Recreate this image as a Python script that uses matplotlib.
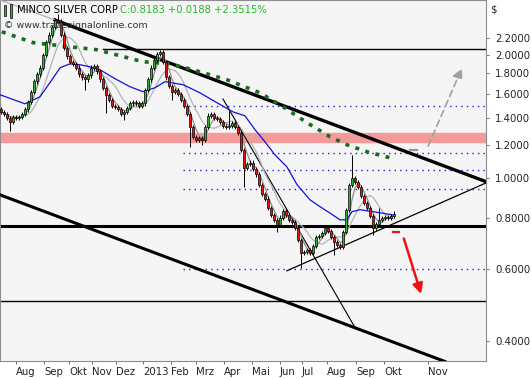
import numpy as np
import pandas as pd
import matplotlib
matplotlib.use("Agg")
import matplotlib.pyplot as plt
from matplotlib.ticker import FixedLocator, NullLocator, NullFormatter
from matplotlib.patches import Rectangle

# closing prices, one bar per ~2 trading days, Aug 2012 .. Sep 2013
closes = [1.45, 1.43, 1.40, 1.37, 1.41, 1.40, 1.41, 1.43, 1.47, 1.53,
          1.62, 1.72, 1.79, 1.86, 2.00, 2.15, 2.24, 2.34, 2.43, 2.41,
          2.24, 2.08, 1.98, 1.92, 1.90, 1.86, 1.79, 1.76, 1.74, 1.78,
          1.86, 1.88, 1.82, 1.74, 1.66, 1.59, 1.55, 1.50, 1.49, 1.475,
          1.43, 1.45, 1.48, 1.52, 1.53, 1.52, 1.50, 1.52, 1.64, 1.74,
          1.86, 1.94, 2.01, 2.03, 1.92, 1.76, 1.68, 1.62, 1.64, 1.60,
          1.55, 1.50, 1.43, 1.33, 1.26, 1.24, 1.25, 1.24, 1.33, 1.42,
          1.43, 1.40, 1.39, 1.37, 1.34, 1.33, 1.34, 1.36, 1.33, 1.29,
          1.17, 1.06, 1.08, 1.09, 1.05, 1.02, 0.96, 0.915, 0.89, 0.845,
          0.812, 0.79, 0.768, 0.80, 0.83, 0.81, 0.79, 0.78, 0.755, 0.706,
          0.655, 0.66, 0.667, 0.655, 0.682, 0.718, 0.722, 0.734, 0.755, 0.743,
          0.718, 0.698, 0.686, 0.678, 0.739, 0.836, 0.962, 1.00, 0.978, 0.951,
          0.904, 0.869, 0.845, 0.807, 0.755, 0.772, 0.79, 0.799, 0.803, 0.799,
          0.807, 0.8183]
first_open = 1.47

# bars with long shadows (bar index -> price)
long_lows = {3: 1.30, 28: 1.64, 35: 1.44, 41: 1.387, 57: 1.55, 63: 1.19,
             67: 1.205, 81: 0.951, 92: 0.738, 100: 0.603, 111: 0.649, 124: 0.726}
long_highs = {19: 2.52, 76: 1.46, 117: 1.139, 126: 0.845}

# 50-day average (blue)
ma50_x = [-0.3, 8, 13, 16.3, 19.7, 23, 26.3, 29.7, 33, 38, 43, 47.3, 51.3,
          54.7, 60.7, 66.3, 72, 77.3, 81.3, 84.7, 88, 91.3, 95.3, 98.7, 103,
          106.3, 109.7, 113, 115.3, 117, 119.7, 124, 130.7]
ma50 = [1.596, 1.517, 1.578, 1.708, 1.858, 1.90, 1.89, 1.868, 1.837, 1.747,
        1.67, 1.624, 1.66, 1.718, 1.689, 1.614, 1.526, 1.45, 1.418, 1.311,
        1.225, 1.139, 1.064, 0.962, 0.884, 0.851, 0.82, 0.79, 0.79, 0.827,
        0.836, 0.827, 0.812]

# 200-day average (green dotted)
ma200_x = [0.3, 10.7, 32, 47.3, 56.3, 64, 75.3, 86.3, 94, 102, 109.7, 115.3, 122, 129.7]
ma200 = [2.275, 2.14, 2.056, 1.922, 1.90, 1.837, 1.737, 1.614, 1.492, 1.364,
         1.26, 1.205, 1.158, 1.12]

month_pos = [5, 14.3, 22.7, 30.3, 38.3, 47.3, 56.7, 65, 74.3, 83.7, 93,
             100.3, 108.7, 118.3, 127.7, 142.3]
month_labels = ["Aug", "Sep", "Okt", "Nov", "Dez", "2013", "Feb", "Mrz", "Apr",
                "Mai", "Jun", "Jul", "Aug", "Sep", "Okt", "Nov"]

price_ticks = [0.4, 0.6, 0.8, 1.0, 1.2, 1.4, 1.6, 1.8, 2.0, 2.2]
dotted_levels = [1.50, 1.152, 1.047, 0.94, 0.60]

plt.rcParams['font.family'] = 'DejaVu Sans'

fig = plt.figure(figsize=(5.31, 3.79), dpi=100)
ax = fig.add_axes([0, 18 / 379, 486 / 531, 361 / 379])
ax.set_facecolor('#f5f5f5')
ax.set_yscale('log')
x_end = 161.67
ax.set_xlim(-0.33, x_end)
ax.set_ylim(0.357, 2.72)

# support / resistance
ax.axhspan(1.225, 1.29, color='#f59a9a', zorder=1)
ax.axhline(0.765, color='black', lw=2.2, zorder=2)
ax.axhline(0.50, color='black', lw=1.0, zorder=2)
ax.plot([34, x_end], [2.07, 2.07], color='black', lw=1.0, zorder=2)
for lev in dotted_levels:
    ax.plot([60.7, x_end], [lev, lev], color='#1f1fe0', lw=1.0,
            ls=(0, (1, 3)), zorder=2)

# trend channel
ax.plot([18, x_end], [2.43, 0.979], color='black', lw=2.4, zorder=3)
ax.plot([-0.33, 148], [0.909, 0.356], color='black', lw=2.2, zorder=3)
ax.plot([95.3, x_end], [0.593, 0.972], color='black', lw=0.9, zorder=3)
ax.plot([74, 118], [1.559, 0.431], color='black', lw=0.8, zorder=3)
ax.plot([-0.33, 18.7], [2.72, 2.42], color='#aaaaaa', lw=0.8, zorder=3)

# moving averages
cl = pd.Series(closes)
idx = np.arange(len(closes))
ax.plot(idx, cl.rolling(9, min_periods=1).mean(), color='#b4b4b4', lw=0.9, zorder=4)
ax.plot(idx, cl.rolling(4, min_periods=1).mean(), color='#8f8f8f', lw=0.9, zorder=4)
ax.plot(ma50_x, ma50, color='#1010e0', lw=0.9, zorder=4)
ax.plot(ma200_x, ma200, color='#1a6b1a', lw=2.6, ls=(0, (1.1, 1.8)), zorder=4)

# candles
opens = [first_open] + closes[:-1]
for i, (o, c) in enumerate(zip(opens, closes)):
    top, bot = max(o, c), min(o, c)
    hi = long_highs.get(i, top * 1.012)
    lo = long_lows.get(i, bot * 0.988)
    ax.vlines(i, lo, hi, color='black', lw=0.7, zorder=5)
    col = '#2db82d' if c >= o else '#ee1111'
    ax.add_patch(Rectangle((i - 0.36, bot), 0.72, max(top - bot, bot * 0.004),
                           facecolor=col, edgecolor='black', lw=0.5, zorder=6))

# scenario arrows
ax.plot([136.3, 138.7], [1.17, 1.17], color='#999999', lw=1.6, zorder=4)
ax.annotate('', xy=(154, 1.88), xytext=(142, 1.178),
            arrowprops=dict(arrowstyle='-|>,head_length=0.6,head_width=0.3',
                            color='#a0a0a0', lw=1.2, ls=(0, (4, 2.5))), zorder=4)
ax.plot([130.7, 132.7], [0.739, 0.739], color='#ee1111', lw=1.6, zorder=4)
ax.annotate('', xy=(140.3, 0.513), xytext=(134, 0.722),
            arrowprops=dict(arrowstyle='-|>,head_length=0.6,head_width=0.3',
                            color='#ee1111', lw=1.8), zorder=4)

# axes styling
for s in ax.spines.values():
    s.set_color('#8c8c8c')
ax.yaxis.tick_right()
ax.yaxis.set_major_locator(FixedLocator(price_ticks))
ax.yaxis.set_minor_locator(NullLocator())
ax.yaxis.set_minor_formatter(NullFormatter())
ax.set_yticklabels([f"{p:.4f}" for p in price_ticks])
ax.tick_params(axis='y', direction='out', length=2.5, width=0.6,
               color='#555555', labelsize=7.3, pad=4, labelcolor='#222222')
ax.set_xticks(month_pos)
ax.set_xticklabels(month_labels)
for lbl in ax.get_xticklabels():
    lbl.set_horizontalalignment('left')
ax.tick_params(axis='x', direction='out', length=2.5, width=0.6,
               color='#555555', labelsize=7.3, pad=1.5, labelcolor='#222222')

# header
ax.add_patch(Rectangle((0.008, 0.955), 0.005, 0.03, transform=ax.transAxes,
                       facecolor='#2db82d', edgecolor='black', lw=0.5, zorder=8))
ax.add_patch(Rectangle((0.020, 0.950), 0.005, 0.038, transform=ax.transAxes,
                       facecolor='#2db82d', edgecolor='black', lw=0.5, zorder=8))
ax.text(0.035, 0.972, "MINCO SILVER CORP", transform=ax.transAxes,
        fontsize=7.2, color='black', va='center', ha='left', zorder=9)
ax.text(0.247, 0.972, "C:0.8183 +0.0188 +2.3515%", transform=ax.transAxes,
        fontsize=7.2, color='#22bb22', va='center', ha='left', zorder=9)
ax.text(0.008, 0.93, "\u00a9 www.tradesignalonline.com", transform=ax.transAxes,
        fontsize=6.8, color='#333333', va='center', ha='left', zorder=9)
fig.text(493 / 531, 1 - 10 / 379, "$", fontsize=7.3, color='#222222',
         ha='center', va='center')

fig.savefig("out.png", dpi=100)
